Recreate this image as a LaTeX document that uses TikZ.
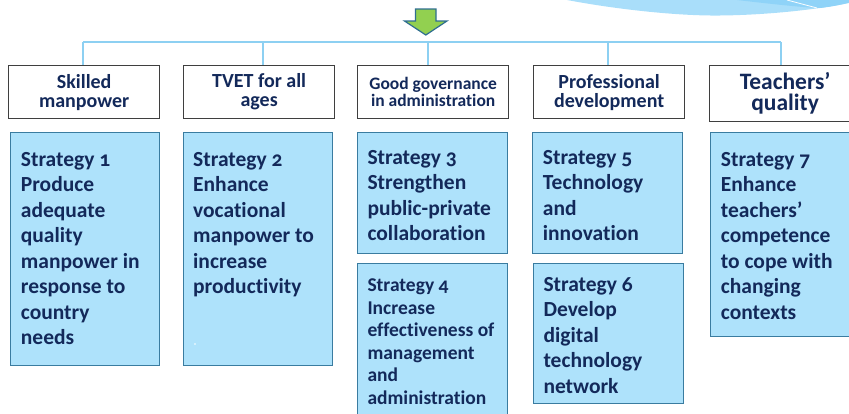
\documentclass[tikz,border=0pt]{standalone}
\usepackage{fontspec}
\setmainfont{Carlito}[Numbers=OldStyle, Ligatures=NoCommon]
\definecolor{navy}{HTML}{13295A}
\definecolor{sfill}{HTML}{AEE2FB}
\definecolor{sborder}{HTML}{3A7CA0}
\definecolor{hborder}{HTML}{3F3F3F}
\definecolor{conn}{HTML}{8DD0F2}
\definecolor{agreen}{HTML}{92D050}
\definecolor{aedge}{HTML}{2F6E90}
\definecolor{swA}{HTML}{A9DEFA}
\definecolor{swB}{HTML}{8FD3F8}
\tikzset{
  hbox/.style={draw=hborder, line width=1.3pt, fill=white, anchor=north west, minimum width=151pt, minimum height=53pt, inner sep=0pt, align=center, text=navy, font=\bfseries},
  sbox/.style={draw=sborder, line width=1.3pt, fill=sfill, anchor=north west, inner sep=0pt},
  stext/.style={anchor=north west, inner sep=0pt, align=left, text=navy, font=\fontsize{21.5}{25.5}\selectfont\bfseries},
  stextsm/.style={anchor=north west, inner sep=0pt, align=left, text=navy, font=\fontsize{19.5}{22.5}\selectfont\bfseries},
  connline/.style={draw=conn, line width=1.3pt}
}
\begin{document}
\begin{tikzpicture}[x=1pt,y=-1pt]
\useasboundingbox (0,0) rectangle (849,413);
\begin{scope}
\clip (0,0) rectangle (849,413);
% swoosh
\fill[swA] (567,0) .. controls (620,10) and (680,16) .. (720,15.5) .. controls (770,15) and (820,9) .. (849,3) -- (849,0) -- cycle;
\fill[swB] (737,0) .. controls (780,5) and (810,8) .. (820,8) .. controls (830,7) and (845,4) .. (849,2.5) -- (849,0) -- cycle;
\draw[white, line width=0.8pt] (787,0) -- (817,8);
% green arrow
\filldraw[fill=agreen, draw=aedge, line width=1.2pt] (415.5,9) -- (436,9) -- (436,21) -- (447,21) -- (425.8,35) -- (404.5,21) -- (415.5,21) -- cycle;
% header boxes
\node[hbox, font=\fontsize{20}{19}\selectfont\bfseries] (h1) at (8,65) {Skilled\\manpower};
\node[hbox, font=\fontsize{20}{19}\selectfont\bfseries] (h2) at (183,65) {TVET for all\\ages};
\node[hbox, font=\fontsize{17.5}{16.5}\selectfont\bfseries] (h3) at (357,65) {Good governance\\in administration};
\node[hbox, font=\fontsize{20}{19}\selectfont\bfseries] (h4) at (533,65) {Professional\\development};
\node[hbox, minimum height=56pt, font=\fontsize{23.5}{21}\selectfont\bfseries] (h5) at (709,65) {Teachers’\\quality};
% connectors
\coordinate (top) at (428,42);
\coordinate (j1) at (83,42);
\coordinate (j2) at (263,42);
\coordinate (j4) at (608,42);
\coordinate (j5) at (781,42);
\draw[connline] (j1) -- (j5);
\draw[connline] (j1) -- (j1 |- h1.north);
\draw[connline] (j2) -- (j2 |- h2.north);
\draw[connline] (top) -- (top |- h3.north);
\draw[connline] (j4) -- (j4 |- h4.north);
\draw[connline] (j5) -- (j5 |- h5.north);
% strategy boxes
\node[sbox, minimum width=149pt, minimum height=233pt] (s1) at (10,132) {};
\node[sbox, minimum width=149pt, minimum height=233pt] (s2) at (183,132) {};
\node[sbox, minimum width=150pt, minimum height=121pt] (s3) at (357,132) {};
\node[sbox, minimum width=150pt, minimum height=160pt] (s4) at (357,263) {};
\node[sbox, minimum width=150pt, minimum height=121pt] (s5) at (532,132) {};
\node[sbox, minimum width=150pt, minimum height=140pt] (s6) at (533,263) {};
\node[sbox, minimum width=151pt, minimum height=204pt] (s7) at (710,132) {};
\node[stext] (t1) at ([xshift=10.7pt,yshift=-20pt]s1.north west) {Strategy 1\\Produce\\adequate\\quality\\manpower in\\response to\\country\\needs};
\node[stext] (t2) at ([xshift=10pt,yshift=-20pt]s2.north west) {Strategy 2\\Enhance\\vocational\\manpower to\\increase\\productivity};
\fill[white] (195,344) circle (0.8pt);
\node[stext] (t3) at ([xshift=10.3pt,yshift=-18pt]s3.north west) {Strategy 3\\Strengthen\\public-private\\collaboration};
\node[stextsm] (t4) at ([xshift=10.3pt,yshift=-16pt]s4.north west) {Strategy 4\\Increase\\effectiveness of\\management\\and\\administration};
\node[stext] (t5) at ([xshift=10.7pt,yshift=-18pt]s5.north west) {Strategy 5\\Technology\\and\\innovation};
\node[stext] (t6) at ([xshift=10.3pt,yshift=-14pt]s6.north west) {Strategy 6\\Develop\\digital\\technology\\network};
\node[stext] (t7) at ([xshift=10.7pt,yshift=-20pt]s7.north west) {Strategy 7\\Enhance\\teachers’\\competence\\to cope with\\changing\\contexts};
\end{scope}
\end{tikzpicture}
\end{document}
